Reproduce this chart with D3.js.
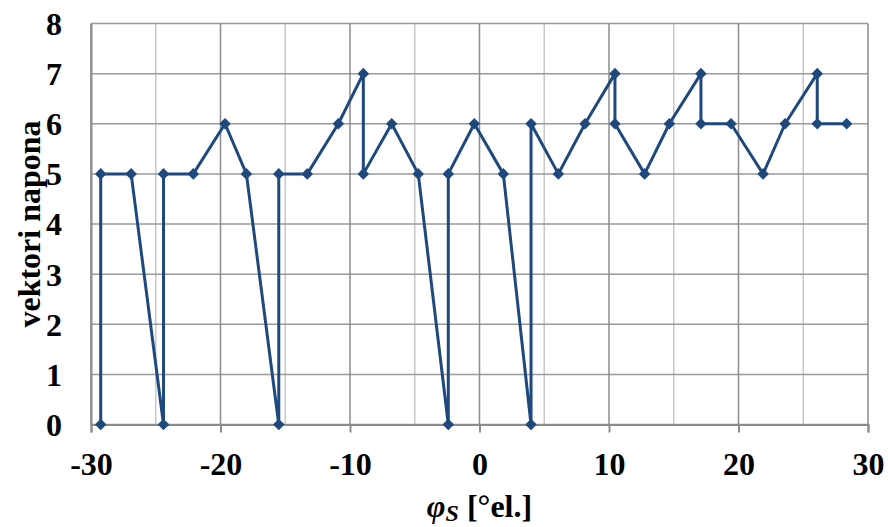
<!DOCTYPE html>
<html><head><meta charset="utf-8">
<script src="https://cdn.jsdelivr.net/npm/d3@7"></script>
<style>body{margin:0;background:#fff}svg{display:block}</style>
</head><body>
<svg id="c" width="888" height="527"></svg>
<script>
const phiS = [-29.25,-29.25,-26.9,-24.4,-24.4,-22.1,-19.65,-18.0,-15.5,-15.5,-13.3,-10.9,-8.97,-8.97,-6.78,-4.73,-2.41,-2.41,-0.4,1.84,3.98,3.98,6.09,8.15,10.46,10.46,12.75,14.66,17.1,17.1,19.42,21.9,23.6,26.08,26.08,28.35];
const vektori = [0,5,5,0,5,5,6,5,0,5,5,6,7,5,6,5,0,5,6,5,0,6,5,6,7,6,5,6,7,6,6,5,6,7,6,6];
const xTicks = [-30,-20,-10,0,10,20,30];
const xMinor = [-25,-15,-5,5,15,25];
const yTicks = [0,1,2,3,4,5,6,7,8];

const svg = d3.select("#c");
const x = d3.scaleLinear().domain([-30,30]).range([91,868]);
const y = d3.scaleLinear().domain([0,8]).range([424.5,23.5]);
const font = "'Liberation Serif','Times New Roman',serif";

svg.append("g").selectAll("line").data(xMinor).join("line")
  .attr("x1",d=>x(d)).attr("x2",d=>x(d)).attr("y1",y(0)).attr("y2",y(8))
  .attr("stroke","#c8c8c8").attr("stroke-width",1.5);
svg.append("g").selectAll("line").data(yTicks).join("line")
  .attr("x1",x(-30)).attr("x2",x(30)).attr("y1",d=>y(d)).attr("y2",d=>y(d))
  .attr("stroke","#9a9a9a").attr("stroke-width",1.5);
svg.append("g").selectAll("line").data(xTicks).join("line")
  .attr("x1",d=>x(d)).attr("x2",d=>x(d)).attr("y1",y(0)).attr("y2",y(8))
  .attr("stroke","#8c8c8c").attr("stroke-width",1.5);

const xa = svg.append("g").attr("transform",`translate(0,${y(0)})`)
  .call(d3.axisBottom(x).tickValues(xTicks).tickSize(8).tickPadding(20).tickFormat(d3.format("d")));
xa.select(".domain").attr("stroke","#8c8c8c").attr("stroke-width",2);
xa.selectAll(".tick line").attr("stroke","#8c8c8c").attr("stroke-width",2);
xa.selectAll("text").attr("font-family",font).attr("font-weight","bold").attr("font-size",32)
  .attr("fill","#000").attr("dy",null).attr("y",50).text(d=>d<0?"-"+Math.abs(d):d);

const ya = svg.append("g").attr("transform",`translate(${x(-30)},0)`)
  .call(d3.axisLeft(y).tickValues(yTicks).tickSize(0).tickPadding(29).tickFormat(d3.format("d")));
ya.select(".domain").attr("stroke","#8c8c8c").attr("stroke-width",2);
ya.selectAll("text").attr("font-family",font).attr("font-weight","bold").attr("font-size",32)
  .attr("fill","#000").attr("dy","0.34em");

const pts = phiS.map((v,i)=>[v,vektori[i]]);
svg.append("path").datum(pts)
  .attr("d", d3.line().x(d=>x(d[0])).y(d=>y(d[1])))
  .attr("fill","none").attr("stroke","#1f497d").attr("stroke-width",3).attr("stroke-linejoin","round");
svg.append("g").selectAll("path").data(pts).join("path")
  .attr("transform",d=>`translate(${x(d[0])},${y(d[1])})`)
  .attr("d", d3.symbol().type(d3.symbolDiamond2).size(85))
  .attr("fill","#1f497d");

svg.append("text").attr("transform",`translate(40,${(y(0)+y(8))/2}) rotate(-90)`)
  .attr("text-anchor","middle").attr("font-family",font).attr("font-weight","bold")
  .attr("font-size",32).attr("fill","#000").text("vektori napona");

const xt = svg.append("text").attr("x",(x(-30)+x(30))/2).attr("y",517)
  .attr("text-anchor","middle").attr("font-family",font).attr("font-weight","bold")
  .attr("font-size",32).attr("fill","#000");
xt.append("tspan").attr("font-style","italic").text("φ");
xt.append("tspan").attr("font-style","italic").attr("font-size",24).attr("dy",4).text("S");
xt.append("tspan").attr("dy",-4).text(" [°el.]");
</script>
</body></html>
